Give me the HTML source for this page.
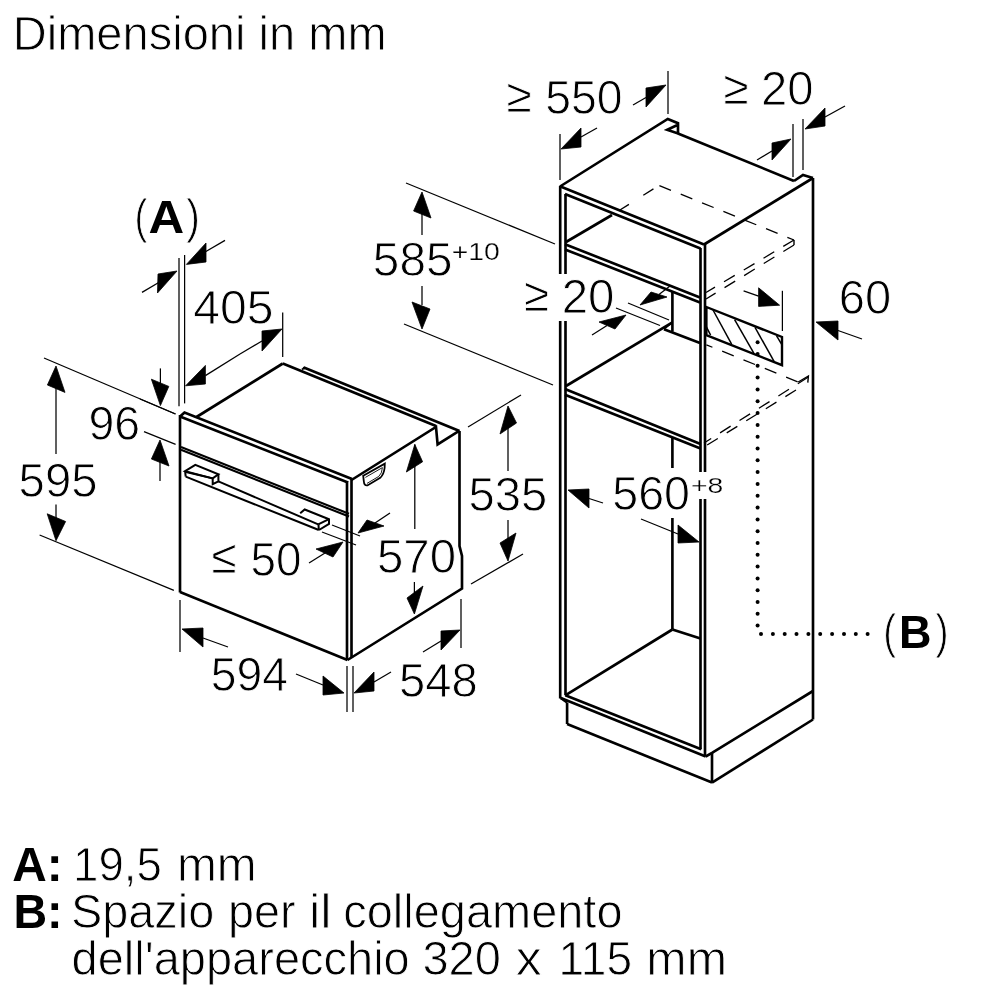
<!DOCTYPE html>
<html><head><meta charset="utf-8"><style>
html,body{margin:0;padding:0;background:#fff;}
svg{display:block;}
text{font-family:"Liberation Sans",sans-serif;fill:#000;stroke:#fff;stroke-width:0.9px;}
</style></head><body>
<svg width="1000" height="1000" viewBox="0 0 1000 1000">
<rect width="1000" height="1000" fill="#fff"/>
<g stroke="#000" stroke-linecap="butt" stroke-linejoin="miter" fill="none">
<line x1="180" y1="415" x2="180" y2="592.5" stroke-width="2.65" />
<line x1="180" y1="592" x2="347.5" y2="660" stroke-width="2.65" />
<line x1="347" y1="481" x2="347" y2="660" stroke-width="2.65" />
<line x1="351.5" y1="479" x2="351.5" y2="658" stroke-width="2.65" />
<polyline points="180,416.5 184.5,412.5 352,479" stroke-width="2.65" fill="none" />
<line x1="180" y1="416.5" x2="348" y2="482.5" stroke-width="2.65" />
<line x1="181" y1="447" x2="349" y2="513.8" stroke-width="2.1" />
<line x1="181" y1="449.8" x2="349" y2="516.6" stroke-width="2.1" />
<line x1="196.5" y1="417" x2="282.8" y2="363.5" stroke-width="2.65" />
<line x1="282.8" y1="363.5" x2="436" y2="426" stroke-width="2.65" />
<polyline points="303.5,368.5 304.5,367.8 459.5,431" stroke-width="2.65" fill="none" />
<line x1="302" y1="369.5" x2="305" y2="367.5" stroke-width="2.0" />
<polyline points="351.5,480 436,427 437.6,444.4 457.5,432 459.5,431" stroke-width="2.65" fill="none" />
<polyline points="459.5,431 459.5,546 462,556 462,588.5 347.5,660" stroke-width="2.65" fill="none" />
<path d="M363.2,475.8 L384.8,463.6 L384.6,468 Q383.8,474.6 380.2,477.8 L367.4,485.4 Q364.2,486 363.8,481.2 Z" stroke-width="1.8"/>
<path d="M365.4,477.4 L382.4,467.6 Q382,473.6 378.8,476.4 L367,483.4" stroke-width="0.9"/>
<polygon points="185.1,471.2 195.3,464.9 218.4,474.2 212.7,478.4" stroke-width="2.0" fill="none" />
<polyline points="218.4,474.2 218.4,481.4 212.7,484.2 212.7,478.4" stroke-width="2.0" fill="none" />
<polyline points="185.1,471.2 185.7,476.6" stroke-width="2.0" fill="none" />
<line x1="186" y1="472" x2="212.7" y2="478.4" stroke-width="2.0" />
<line x1="218.4" y1="481.4" x2="318.2" y2="524.4" stroke-width="2.0" />
<line x1="185.7" y1="476.6" x2="318.8" y2="530" stroke-width="2.0" />
<polyline points="300.2,513.2 304.7,509.5 329,519.2 329,523.9 319,530" stroke-width="2.0" fill="none" />
<polyline points="318.2,524.4 329,519.2" stroke-width="2.0" fill="none" />
<line x1="318.5" y1="524.4" x2="318.8" y2="530" stroke-width="2.0" />
<line x1="560.2" y1="186" x2="560.2" y2="274" stroke-width="2.65" />
<line x1="560.2" y1="321" x2="560.2" y2="698.5" stroke-width="2.65" />
<line x1="565.5" y1="194" x2="565.5" y2="274" stroke-width="2.65" />
<line x1="565.5" y1="321" x2="565.5" y2="695.3" stroke-width="2.65" />
<line x1="560.5" y1="186.5" x2="704" y2="244.5" stroke-width="2.65" />
<line x1="565" y1="194" x2="700.5" y2="248.5" stroke-width="2.65" />
<polyline points="560,186.5 667.8,119 678,123.2 678,133.4 667.2,129.8 677.4,125" stroke-width="2.65" fill="none" />
<line x1="678" y1="133.4" x2="794" y2="181" stroke-width="2.65" />
<polyline points="794,181 803,175 813,178" stroke-width="2.65" fill="none" />
<line x1="704" y1="244.5" x2="813" y2="178" stroke-width="2.65" />
<line x1="813" y1="178" x2="813" y2="719.5" stroke-width="2.65" />
<line x1="700.5" y1="248" x2="700.5" y2="472" stroke-width="2.65" />
<line x1="700.5" y1="499" x2="700.5" y2="749.3" stroke-width="2.65" />
<line x1="705" y1="244" x2="705" y2="472" stroke-width="2.65" />
<line x1="705" y1="499" x2="705" y2="756.5" stroke-width="2.65" />
<line x1="565" y1="244.2" x2="700" y2="297.5" stroke-width="2.65" />
<line x1="565" y1="249.4" x2="700" y2="302.5" stroke-width="2.65" />
<line x1="566" y1="242" x2="612" y2="215" stroke-width="2.65" />
<line x1="612" y1="215" x2="658" y2="186" stroke-width="1.3" stroke-dasharray="0 8 12 9" stroke-dashoffset="0"/>
<line x1="659.4" y1="185.6" x2="794" y2="240" stroke-width="1.3" stroke-dasharray="12.5 10.5" stroke-dashoffset="0"/>
<line x1="794" y1="240" x2="794" y2="245" stroke-width="1.4" />
<line x1="794" y1="240" x2="706" y2="292.5" stroke-width="1.3" stroke-dasharray="12.5 10.5" stroke-dashoffset="0"/>
<line x1="794" y1="245" x2="706" y2="299" stroke-width="1.3" stroke-dasharray="12.5 10.5" stroke-dashoffset="0"/>
<line x1="672.4" y1="291.6" x2="672.4" y2="331.6" stroke-width="2.65" />
<line x1="664" y1="329.2" x2="700" y2="343" stroke-width="2.65" />
<line x1="566" y1="386" x2="672.4" y2="322.4" stroke-width="2.65" />
<line x1="664" y1="329.2" x2="672.4" y2="322.4" stroke-width="1.6" />
<line x1="565" y1="389" x2="700.5" y2="444" stroke-width="2.65" />
<line x1="565" y1="394.8" x2="700.5" y2="448.6" stroke-width="2.65" />
<line x1="706.4" y1="344.8" x2="798.2" y2="382" stroke-width="1.3" stroke-dasharray="12.5 10.5" stroke-dashoffset="6"/>
<polyline points="798.2,382 808.4,376 807.8,382.6" stroke-width="1.4" fill="none" />
<line x1="808.4" y1="377" x2="704" y2="443" stroke-width="1.3" stroke-dasharray="12.5 10.5" stroke-dashoffset="0"/>
<line x1="796" y1="390" x2="704" y2="447" stroke-width="1.3" stroke-dasharray="12.5 10.5" stroke-dashoffset="0"/>
<polygon points="706.4,307 782,337 782,365.2 706.4,335.2" stroke-width="2.4" fill="none" />
<line x1="713" y1="310" x2="731.6" y2="344.2" stroke-width="1.5" />
<line x1="734.6" y1="319.6" x2="753.8" y2="353.2" stroke-width="1.5" />
<line x1="755" y1="327.4" x2="774.2" y2="361.6" stroke-width="1.5" />
<line x1="776.6" y1="335.8" x2="782" y2="344.8" stroke-width="1.5" />
<line x1="706.4" y1="326.8" x2="710.6" y2="335.2" stroke-width="1.5" />
<line x1="672.4" y1="438" x2="672.4" y2="468" stroke-width="2.65" />
<line x1="672.4" y1="518" x2="672.4" y2="629.5" stroke-width="2.65" />
<line x1="565.3" y1="695.3" x2="672.4" y2="629.5" stroke-width="2.65" />
<line x1="672.4" y1="629.5" x2="700.5" y2="638.5" stroke-width="2.65" />
<line x1="560.8" y1="698" x2="705.7" y2="756.5" stroke-width="2.65" />
<line x1="565.3" y1="695.3" x2="701.2" y2="749.3" stroke-width="2.65" />
<line x1="560.8" y1="698" x2="567.1" y2="702.5" stroke-width="2.65" />
<line x1="567.1" y1="702.5" x2="567.1" y2="724" stroke-width="2.65" />
<line x1="567.1" y1="724" x2="712" y2="782.6" stroke-width="2.65" />
<line x1="712" y1="752.9" x2="712" y2="782.6" stroke-width="2.65" />
<polyline points="705.7,756.5 712,752.9 813,691" stroke-width="2.65" fill="none" />
<line x1="712" y1="782.6" x2="813" y2="719.5" stroke-width="2.65" />
<circle cx="757.6" cy="342.2" r="2.0" fill="#000" stroke="none"/>
<circle cx="757.6" cy="354.0" r="2.0" fill="#000" stroke="none"/>
<circle cx="757.6" cy="365.8" r="2.0" fill="#000" stroke="none"/>
<circle cx="757.6" cy="377.6" r="2.0" fill="#000" stroke="none"/>
<circle cx="757.6" cy="389.4" r="2.0" fill="#000" stroke="none"/>
<circle cx="757.6" cy="401.2" r="2.0" fill="#000" stroke="none"/>
<circle cx="757.6" cy="413.1" r="2.0" fill="#000" stroke="none"/>
<circle cx="757.6" cy="424.9" r="2.0" fill="#000" stroke="none"/>
<circle cx="757.6" cy="436.7" r="2.0" fill="#000" stroke="none"/>
<circle cx="757.6" cy="448.5" r="2.0" fill="#000" stroke="none"/>
<circle cx="757.6" cy="460.3" r="2.0" fill="#000" stroke="none"/>
<circle cx="757.6" cy="472.1" r="2.0" fill="#000" stroke="none"/>
<circle cx="757.6" cy="483.9" r="2.0" fill="#000" stroke="none"/>
<circle cx="757.6" cy="495.7" r="2.0" fill="#000" stroke="none"/>
<circle cx="757.6" cy="507.5" r="2.0" fill="#000" stroke="none"/>
<circle cx="757.6" cy="519.4" r="2.0" fill="#000" stroke="none"/>
<circle cx="757.6" cy="531.2" r="2.0" fill="#000" stroke="none"/>
<circle cx="757.6" cy="543.0" r="2.0" fill="#000" stroke="none"/>
<circle cx="757.6" cy="554.8" r="2.0" fill="#000" stroke="none"/>
<circle cx="757.6" cy="566.6" r="2.0" fill="#000" stroke="none"/>
<circle cx="757.6" cy="578.4" r="2.0" fill="#000" stroke="none"/>
<circle cx="757.6" cy="590.2" r="2.0" fill="#000" stroke="none"/>
<circle cx="757.6" cy="602.0" r="2.0" fill="#000" stroke="none"/>
<circle cx="757.6" cy="613.8" r="2.0" fill="#000" stroke="none"/>
<circle cx="757.6" cy="625.6" r="2.0" fill="#000" stroke="none"/>
<circle cx="761.0" cy="634" r="2.0" fill="#000" stroke="none"/>
<circle cx="772.9" cy="634" r="2.0" fill="#000" stroke="none"/>
<circle cx="784.7" cy="634" r="2.0" fill="#000" stroke="none"/>
<circle cx="796.5" cy="634" r="2.0" fill="#000" stroke="none"/>
<circle cx="808.4" cy="634" r="2.0" fill="#000" stroke="none"/>
<circle cx="820.2" cy="634" r="2.0" fill="#000" stroke="none"/>
<circle cx="832.1" cy="634" r="2.0" fill="#000" stroke="none"/>
<circle cx="844.0" cy="634" r="2.0" fill="#000" stroke="none"/>
<circle cx="855.8" cy="634" r="2.0" fill="#000" stroke="none"/>
<circle cx="867.6" cy="634" r="2.0" fill="#000" stroke="none"/>
<line x1="179" y1="258" x2="179" y2="406.2" stroke-width="1.25" />
<line x1="184.6" y1="255" x2="184.6" y2="403.4" stroke-width="1.25" />
<line x1="142" y1="292.4" x2="160" y2="281.8" stroke-width="1.25" />
<polygon points="177,271 158,274 157.5,293" fill="#000" stroke="#000" stroke-width="0.8" stroke-linejoin="miter"/>
<line x1="225" y1="240.4" x2="205" y2="252" stroke-width="1.25" />
<polygon points="186.4,264.4 206,243 206,262" fill="#000" stroke="#000" stroke-width="0.8" stroke-linejoin="miter"/>
<line x1="282.7" y1="312.4" x2="282.7" y2="357" stroke-width="1.25" />
<polygon points="282,329 262,331 262,351" fill="#000" stroke="#000" stroke-width="0.8" stroke-linejoin="miter"/>
<line x1="262" y1="341" x2="240" y2="354" stroke-width="1.25" />
<line x1="205.4" y1="375.6" x2="240" y2="354" stroke-width="1.25" />
<polygon points="185.6,385.8 205.4,365.4 205.4,384" fill="#000" stroke="#000" stroke-width="0.8" stroke-linejoin="miter"/>
<line x1="160.4" y1="368.4" x2="160.4" y2="385" stroke-width="1.25" />
<polygon points="160.4,405.6 151.4,379.2 168.8,386.4" fill="#000" stroke="#000" stroke-width="0.8" stroke-linejoin="miter"/>
<line x1="140" y1="399" x2="175.4" y2="414" stroke-width="1.25" />
<line x1="144" y1="431.6" x2="175.6" y2="444.4" stroke-width="1.25" />
<polygon points="160,440 151.4,459 169,466" fill="#000" stroke="#000" stroke-width="0.8" stroke-linejoin="miter"/>
<line x1="160" y1="462" x2="160" y2="481" stroke-width="1.25" />
<line x1="44" y1="358" x2="175.6" y2="414" stroke-width="1.25" />
<polygon points="56,366 47.4,385 65,392.4" fill="#000" stroke="#000" stroke-width="0.8" stroke-linejoin="miter"/>
<line x1="56" y1="388" x2="56" y2="454" stroke-width="1.25" />
<line x1="56" y1="504.5" x2="56" y2="518" stroke-width="1.25" />
<polygon points="56,540.7 47.2,513.8 65.6,521.5" fill="#000" stroke="#000" stroke-width="0.8" stroke-linejoin="miter"/>
<line x1="39.6" y1="535" x2="173.9" y2="590.3" stroke-width="1.25" />
<line x1="322" y1="532" x2="356" y2="545" stroke-width="1.25" />
<line x1="332" y1="525" x2="360" y2="536" stroke-width="1.25" />
<polygon points="358,533 367,520 384,526" fill="#000" stroke="#000" stroke-width="0.8" stroke-linejoin="miter"/>
<line x1="375" y1="523" x2="390" y2="513" stroke-width="1.25" />
<polygon points="343,542 316,549 333,557" fill="#000" stroke="#000" stroke-width="0.8" stroke-linejoin="miter"/>
<line x1="325" y1="553" x2="309" y2="563" stroke-width="1.25" />
<line x1="180" y1="600" x2="180" y2="652" stroke-width="1.25" />
<polygon points="182,629 203,628 203,647" fill="#000" stroke="#000" stroke-width="0.8" stroke-linejoin="miter"/>
<line x1="203" y1="638" x2="228" y2="647" stroke-width="1.25" />
<line x1="296" y1="674" x2="323" y2="685" stroke-width="1.25" />
<polygon points="344,693 323,676 323,695" fill="#000" stroke="#000" stroke-width="0.8" stroke-linejoin="miter"/>
<line x1="347" y1="666" x2="347" y2="712" stroke-width="1.25" />
<line x1="353" y1="666" x2="353" y2="712" stroke-width="1.25" />
<line x1="461" y1="599" x2="461" y2="648" stroke-width="1.25" />
<polygon points="460,630 441,631 441,650" fill="#000" stroke="#000" stroke-width="0.8" stroke-linejoin="miter"/>
<line x1="441" y1="641" x2="423" y2="652" stroke-width="1.25" />
<polygon points="354,693 374,672 374,691" fill="#000" stroke="#000" stroke-width="0.8" stroke-linejoin="miter"/>
<line x1="374" y1="682" x2="391" y2="672" stroke-width="1.25" />
<line x1="414.8" y1="444.4" x2="414.8" y2="529" stroke-width="1.25" />
<polygon points="414.8,444.4 406.4,472 422.6,461.8" fill="#000" stroke="#000" stroke-width="0.8" stroke-linejoin="miter"/>
<line x1="414.4" y1="582" x2="414.4" y2="595" stroke-width="1.25" />
<polygon points="414.4,614 407,598 423,586" fill="#000" stroke="#000" stroke-width="0.8" stroke-linejoin="miter"/>
<line x1="468" y1="427" x2="521" y2="395" stroke-width="1.25" />
<polygon points="508,406 500,434 516.5,423" fill="#000" stroke="#000" stroke-width="0.8" stroke-linejoin="miter"/>
<line x1="508" y1="428" x2="508" y2="471" stroke-width="1.25" />
<line x1="508" y1="520" x2="508" y2="540" stroke-width="1.25" />
<polygon points="508,561 500,543 516,533" fill="#000" stroke="#000" stroke-width="0.8" stroke-linejoin="miter"/>
<line x1="471" y1="584" x2="523" y2="554" stroke-width="1.25" />
<line x1="406" y1="183" x2="555" y2="244" stroke-width="1.25" />
<polygon points="422,192 413.6,211 431,218" fill="#000" stroke="#000" stroke-width="0.8" stroke-linejoin="miter"/>
<line x1="422" y1="214" x2="422" y2="235" stroke-width="1.25" />
<line x1="422" y1="286" x2="422" y2="305" stroke-width="1.25" />
<polygon points="422,329 412,302 430,309" fill="#000" stroke="#000" stroke-width="0.8" stroke-linejoin="miter"/>
<line x1="404" y1="324" x2="553" y2="385" stroke-width="1.25" />
<line x1="668" y1="71" x2="668" y2="114" stroke-width="1.25" />
<polygon points="666,85 646,88 646,107" fill="#000" stroke="#000" stroke-width="0.8" stroke-linejoin="miter"/>
<line x1="646" y1="97.5" x2="633" y2="105" stroke-width="1.25" />
<line x1="560" y1="134" x2="560" y2="180" stroke-width="1.25" />
<polygon points="561,149 581,128 581,147" fill="#000" stroke="#000" stroke-width="0.8" stroke-linejoin="miter"/>
<line x1="581" y1="137" x2="597" y2="128" stroke-width="1.25" />
<line x1="793" y1="124" x2="793" y2="177" stroke-width="1.25" />
<line x1="803" y1="119" x2="803" y2="170" stroke-width="1.25" />
<polygon points="791,139 772,143 772,160" fill="#000" stroke="#000" stroke-width="0.8" stroke-linejoin="miter"/>
<line x1="772" y1="151" x2="757" y2="160" stroke-width="1.25" />
<polygon points="805,129 825,108 825,126" fill="#000" stroke="#000" stroke-width="0.8" stroke-linejoin="miter"/>
<line x1="825" y1="117" x2="845" y2="106" stroke-width="1.25" />
<line x1="628" y1="303" x2="669" y2="320" stroke-width="1.25" />
<line x1="616" y1="308" x2="660" y2="325.5" stroke-width="1.25" />
<polygon points="640,305 651,292 667,297" fill="#000" stroke="#000" stroke-width="0.8" stroke-linejoin="miter"/>
<line x1="659" y1="294.5" x2="670" y2="286" stroke-width="1.25" />
<polygon points="626,315 599,322 615,329" fill="#000" stroke="#000" stroke-width="0.8" stroke-linejoin="miter"/>
<line x1="607" y1="325.5" x2="592" y2="335" stroke-width="1.25" />
<line x1="782.4" y1="290.8" x2="782.4" y2="331" stroke-width="1.25" />
<polygon points="779.6,305.2 758.6,287.8 758.6,306.4" fill="#000" stroke="#000" stroke-width="0.8" stroke-linejoin="miter"/>
<line x1="743.6" y1="290.8" x2="758.6" y2="296.2" stroke-width="1.25" />
<polygon points="816,322 838,321 838,340" fill="#000" stroke="#000" stroke-width="0.8" stroke-linejoin="miter"/>
<line x1="838" y1="330.5" x2="862" y2="339" stroke-width="1.25" />
<polygon points="568,490 589,489 589,508" fill="#000" stroke="#000" stroke-width="0.8" stroke-linejoin="miter"/>
<line x1="589" y1="498.5" x2="603" y2="503" stroke-width="1.25" />
<polygon points="699,542 678,525 678,543" fill="#000" stroke="#000" stroke-width="0.8" stroke-linejoin="miter"/>
<line x1="678" y1="534" x2="641" y2="519" stroke-width="1.25" />
</g>
<g style="will-change:transform">
<text x="12.74" y="49.96" font-size="48.50" textLength="373.88" lengthAdjust="spacingAndGlyphs">Dimensioni in mm</text>
<text x="134.59" y="232.77" font-size="47.27" textLength="12.82" lengthAdjust="spacingAndGlyphs">(</text>
<text style="stroke-width:0px" x="148.46" y="232.50" font-weight="bold" font-size="46.81" textLength="35.68" lengthAdjust="spacingAndGlyphs">A</text>
<text x="186.19" y="232.77" font-size="47.27" textLength="13.71" lengthAdjust="spacingAndGlyphs">)</text>
<text x="193.20" y="323.82" font-size="47.60" textLength="80.30" lengthAdjust="spacingAndGlyphs">405</text>
<text x="88.41" y="439.62" font-size="47.60" textLength="51.66" lengthAdjust="spacingAndGlyphs">96</text>
<text x="18.61" y="497.02" font-size="47.60" textLength="78.85" lengthAdjust="spacingAndGlyphs">595</text>
<text x="211.33" y="573.46" font-size="47.60" textLength="25.12" lengthAdjust="spacingAndGlyphs">≤</text>
<text x="250.46" y="575.62" font-size="47.60" textLength="51.05" lengthAdjust="spacingAndGlyphs">50</text>
<text x="210.65" y="691.22" font-size="47.60" textLength="77.27" lengthAdjust="spacingAndGlyphs">594</text>
<text x="399.11" y="696.62" font-size="47.60" textLength="78.74" lengthAdjust="spacingAndGlyphs">548</text>
<text x="376.90" y="572.72" font-size="47.60" textLength="79.12" lengthAdjust="spacingAndGlyphs">570</text>
<text x="468.61" y="511.22" font-size="47.60" textLength="78.74" lengthAdjust="spacingAndGlyphs">535</text>
<text x="372.89" y="276.02" font-size="47.60" textLength="79.58" lengthAdjust="spacingAndGlyphs">585</text>
<text style="stroke-width:0.25px" x="451.78" y="259.96" font-size="23.66" textLength="48.09" lengthAdjust="spacingAndGlyphs">+10</text>
<text x="506.32" y="111.56" font-size="47.60" textLength="25.23" lengthAdjust="spacingAndGlyphs">≥</text>
<text x="545.15" y="114.02" font-size="47.60" textLength="77.34" lengthAdjust="spacingAndGlyphs">550</text>
<text x="723.33" y="103.76" font-size="47.60" textLength="25.12" lengthAdjust="spacingAndGlyphs">≥</text>
<text x="761.04" y="105.22" font-size="47.60" textLength="52.52" lengthAdjust="spacingAndGlyphs">20</text>
<text x="523.63" y="310.56" font-size="47.60" textLength="25.12" lengthAdjust="spacingAndGlyphs">≥</text>
<text x="561.63" y="313.12" font-size="47.60" textLength="52.74" lengthAdjust="spacingAndGlyphs">20</text>
<text x="838.84" y="313.82" font-size="47.60" textLength="52.42" lengthAdjust="spacingAndGlyphs">60</text>
<text x="612.24" y="509.72" font-size="47.60" textLength="77.76" lengthAdjust="spacingAndGlyphs">560</text>
<text style="stroke-width:0.25px" x="690.98" y="492.78" font-size="21.97" textLength="32.30" lengthAdjust="spacingAndGlyphs">+8</text>
<text x="883.29" y="647.77" font-size="47.27" textLength="12.82" lengthAdjust="spacingAndGlyphs">(</text>
<text style="stroke-width:0px" x="899.08" y="647.50" font-weight="bold" font-size="47.10" textLength="32.44" lengthAdjust="spacingAndGlyphs">B</text>
<text x="935.41" y="647.77" font-size="47.27" textLength="13.07" lengthAdjust="spacingAndGlyphs">)</text><text style="stroke-width:0px" x="12.30" y="880.5" font-weight="bold" font-size="48.3" textLength="50.45" lengthAdjust="spacingAndGlyphs">A:</text>
<text x="73.08" y="880.5" font-size="48.3" textLength="88.81" lengthAdjust="spacingAndGlyphs">19,5</text>
<text x="176.89" y="880.5" font-size="48.3" textLength="79.77" lengthAdjust="spacingAndGlyphs">mm</text>
<text style="stroke-width:0px" x="13.47" y="927.7" font-weight="bold" font-size="48.3" textLength="49.17" lengthAdjust="spacingAndGlyphs">B:</text>
<text x="70.89" y="927.7" font-size="48.3" textLength="143.41" lengthAdjust="spacingAndGlyphs">Spazio</text>
<text x="228.06" y="927.7" font-size="48.3" textLength="67.55" lengthAdjust="spacingAndGlyphs">per</text>
<text x="309.00" y="927.7" font-size="48.3" textLength="22.57" lengthAdjust="spacingAndGlyphs">il</text>
<text x="343.29" y="927.7" font-size="48.3" textLength="279.24" lengthAdjust="spacingAndGlyphs">collegamento</text>
<text x="71.62" y="974.5" font-size="48.3" textLength="338.10" lengthAdjust="spacingAndGlyphs">dell'apparecchio</text>
<text x="422.42" y="974.5" font-size="48.3" textLength="78.49" lengthAdjust="spacingAndGlyphs">320</text>
<text x="515.72" y="974.5" font-size="48.3" textLength="26.06" lengthAdjust="spacingAndGlyphs">x</text>
<text x="558.54" y="974.5" font-size="48.3" textLength="73.50" lengthAdjust="spacingAndGlyphs">115</text>
<text x="646.35" y="974.5" font-size="48.3" textLength="80.64" lengthAdjust="spacingAndGlyphs">mm</text>
</g>
</svg></body></html>
